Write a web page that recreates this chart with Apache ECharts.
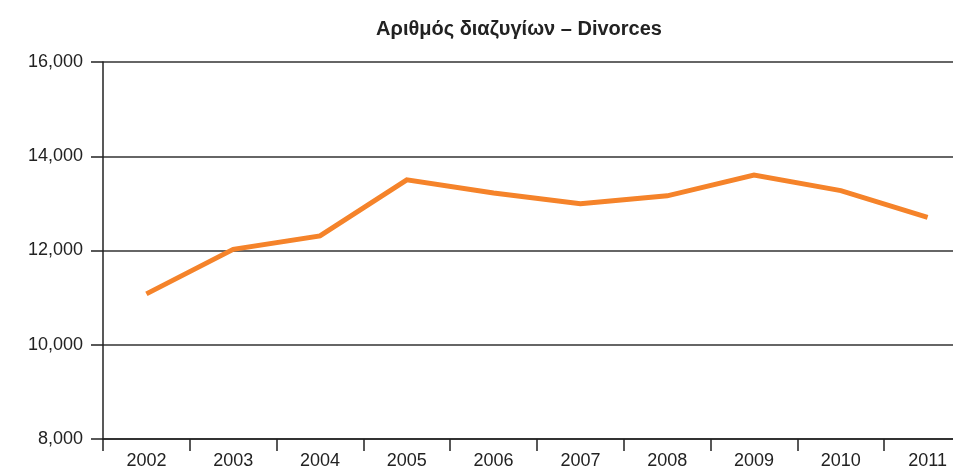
<!DOCTYPE html>
<html>
<head>
<meta charset="utf-8">
<script src="https://cdn.jsdelivr.net/npm/echarts@6/dist/echarts.min.js"></script>
<style>
  html, body { margin: 0; padding: 0; background: #fff; }
  #chart { width: 953px; height: 470px; }
</style>
</head>
<body>
<div id="chart"></div>
<script>
var years = ['2002', '2003', '2004', '2005', '2006', '2007', '2008', '2009', '2010', '2011'];
var divorces = [11080, 12025, 12310, 13500, 13220, 12990, 13160, 13600, 13270, 12705];
var yTicks = [8000, 10000, 12000, 14000, 16000];

var myChart = echarts.init(document.getElementById('chart'));

var option = {
    animation: false,
    title: {
        text: 'Αριθμός διαζυγίων – Divorces',
        left: 514,
        top: 14,
        textAlign: 'center',
        textStyle: {
            fontFamily: 'Liberation Sans, Arial, sans-serif',
            fontSize: 20,
            fontWeight: 'bold',
            color: '#222'
        }
    },
    grid: {
        left: 103,
        right: -18,
        top: 62,
        height: 377,
        outerBoundsMode: 'none',
        containLabel: false
    },
    xAxis: {
        type: 'category',
        data: years,
        boundaryGap: true,
        axisLine: { lineStyle: { color: '#222', width: 1.5 } },
        axisTick: { show: true, length: 12, lineStyle: { color: '#222', width: 1.5 } },
        axisLabel: {
            color: '#222',
            fontFamily: 'Liberation Sans, Arial, sans-serif',
            fontSize: 18,
            margin: 13
        }
    },
    yAxis: {
        type: 'value',
        min: yTicks[0],
        max: yTicks[yTicks.length - 1],
        interval: 2000,
        axisLine: { show: true, lineStyle: { color: '#222', width: 1.5 } },
        axisTick: { show: true, length: 12, lineStyle: { color: '#222', width: 1.5 } },
        splitLine: { show: true, lineStyle: { color: '#333', width: 1.5 } },
        axisLabel: {
            color: '#222',
            fontFamily: 'Liberation Sans, Arial, sans-serif',
            fontSize: 18,
            margin: 20,
            formatter: function (v) {
                return v.toLocaleString('en-US');
            }
        }
    },
    series: [
        {
            type: 'line',
            data: divorces,
            symbol: 'none',
            lineStyle: { color: '#F5832A', width: 5, join: 'miter' }
        }
    ]
};

myChart.setOption(option);
</script>
</body>
</html>
